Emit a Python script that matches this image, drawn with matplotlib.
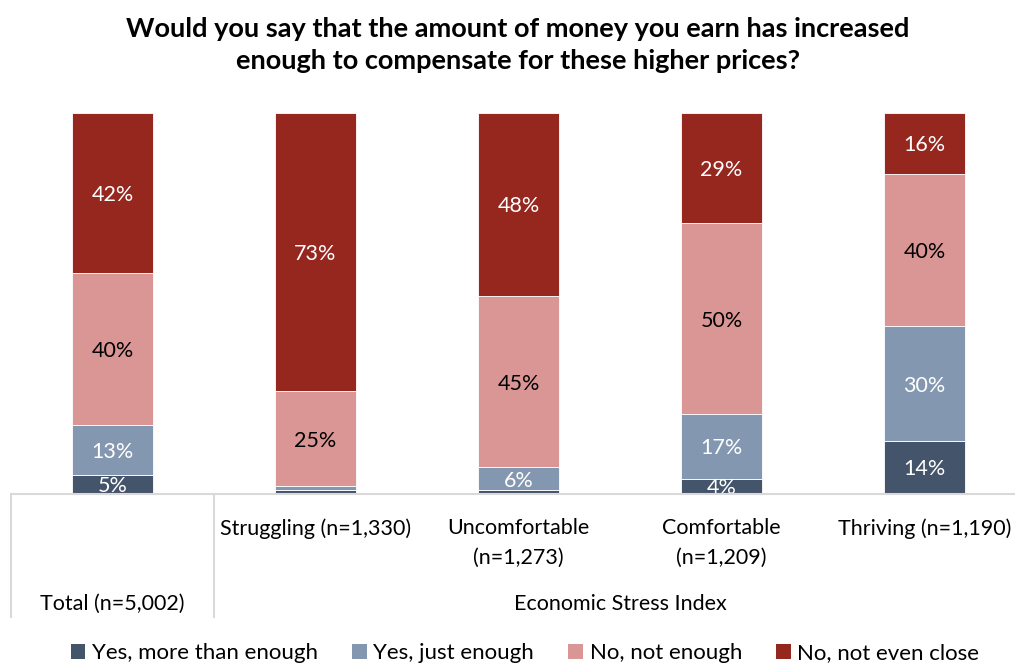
import numpy as np
import matplotlib.pyplot as plt
import matplotlib.transforms as mtransforms
from matplotlib.lines import Line2D
from matplotlib.patches import Patch

plt.rcParams['font.family'] = ['Lato', 'DejaVu Sans']

# --- data ---
groups = ['Total (n=5,002)', 'Struggling (n=1,330)', 'Uncomfortable\n(n=1,273)',
          'Comfortable\n(n=1,209)', 'Thriving (n=1,190)']
series = ['Yes, more than enough', 'Yes, just enough', 'No, not enough', 'No, not even close']
more_than_enough = [5, 1, 1, 4, 14]
just_enough = [13, 1, 6, 17, 30]
not_enough = [40, 25, 45, 50, 40]
not_even_close = [42, 73, 48, 29, 16]
# which segments carry a printed value
show_label = [
    [True, False, False, True, True],
    [True, False, True, True, True],
    [True, True, True, True, True],
    [True, True, True, True, True],
]
parent_label = 'Economic Stress Index'
title = 'Would you say that the amount of money you earn has increased\nenough to compensate for these higher prices?'

colors = ['#44546A', '#8497B0', '#DA9694', '#95271F']
text_colors = ['white', 'white', 'black', 'white']

W, H = 1015, 664
fig = plt.figure(figsize=(W / 100, H / 100), dpi=100)

# axes box in pixels: left 11, right 1015, top 113, bottom 494
ax = fig.add_axes([11 / W, 1 - 494 / H, 1004 / W, 381 / H])

x = np.arange(len(groups))
values = [more_than_enough, just_enough, not_enough, not_even_close]
bottom = np.zeros(len(groups))
for i, vals in enumerate(values):
    vals = np.array(vals, dtype=float)
    ax.bar(x, vals, width=0.4, bottom=bottom, color=colors[i],
           edgecolor='white', linewidth=0.6, zorder=2)
    for j, v in enumerate(vals):
        if show_label[i][j]:
            ax.text(x[j], bottom[j] + v / 2, f'{int(v)}%', ha='center', va='center_baseline',
                    color=text_colors[i], fontsize=15.5, zorder=3)
    bottom += vals

ax.set_xlim(-0.5, -0.5 + 1004 / 203)
ax.set_ylim(0, 100)
ax.set_yticks([])
ax.set_xticks([])
for s in ['top', 'left', 'right']:
    ax.spines[s].set_visible(False)
ax.spines['bottom'].set_color('#d9d9d9')
ax.spines['bottom'].set_linewidth(1.5)
ax.spines['bottom'].set_zorder(4)

# multi-level category labels
tr = mtransforms.blended_transform_factory(ax.transData, fig.transFigure)
for j, g in enumerate(groups):
    if j == 0:
        ax.text(x[j], 1 - 604 / H, g, transform=tr, ha='center', va='center', fontsize=15.5)
    else:
        ax.text(x[j], 1 - 518 / H, g, transform=tr, ha='center', va='top', fontsize=15.5,
                linespacing=1.6)
ax.text(2.5, 1 - 604 / H, parent_label, transform=tr, ha='center', va='center', fontsize=15.5)

for px in [11, 214]:
    fig.add_artist(Line2D([px / W, px / W], [1 - 494 / H, 1 - 617 / H],
                          color='#d9d9d9', linewidth=1.5))

fig.text(518 / W, 1 - 45 / H, title, ha='center', va='center', fontsize=19.5,
         fontweight='bold', linespacing=1.4)

handles = [Patch(facecolor=c, edgecolor='none') for c in colors]
fig.legend(handles, series, loc='center', bbox_to_anchor=(525 / W, 1 - 653 / H), ncol=4,
           frameon=False, fontsize=16, handlelength=0.65, handleheight=0.65,
           handletextpad=0.3, columnspacing=1.55)

fig.savefig('out.png', dpi=100)
